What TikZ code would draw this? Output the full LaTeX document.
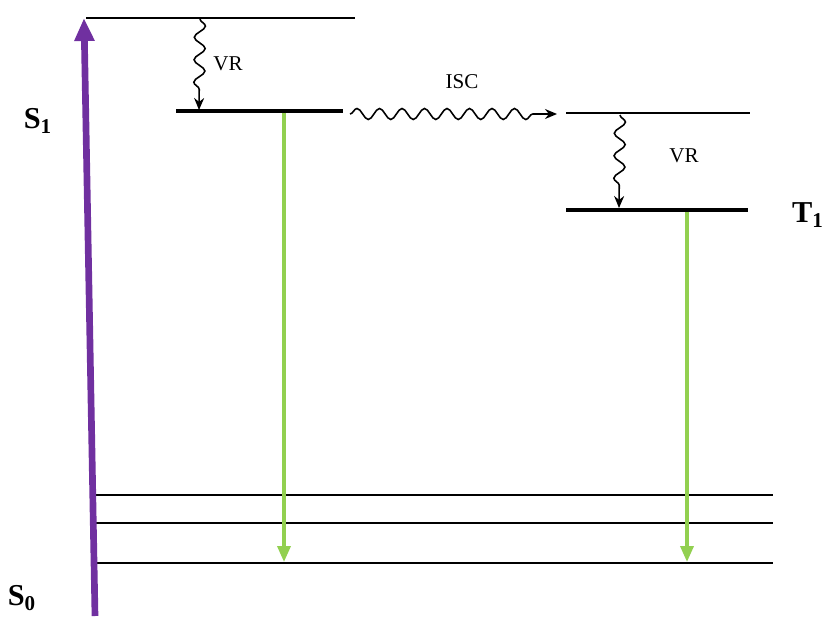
\documentclass[tikz,border=0pt]{standalone}
\usepackage{fontspec}
\setmainfont{Liberation Serif}
\usetikzlibrary{decorations.pathmorphing,arrows.meta}
\definecolor{absviolet}{RGB}{112,48,160}
\definecolor{emgreen}{RGB}{146,208,80}

\begin{document}
\begin{tikzpicture}[x=0.02cm, y=-0.02cm, >=stealth,
  level/.style={line width=0.8pt},
  vlevel/.style={line width=1.8pt},
  wave/.style={-{Stealth[width=0.2cm,length=0.24cm]}, line width=0.9pt, decorate, decoration={snake, amplitude=0.11cm, segment length=0.45cm, post length=0.28cm}},
  emit/.style={-{Triangle[width=0.26cm,length=0.32cm]}, emgreen, line width=2pt},
  lbl/.style={font=\bfseries\LARGE}]
  \useasboundingbox (0,0) rectangle (829,616);

  % S1 levels
  \coordinate (s1top) at (86,18);    \coordinate (s1topE) at (355,18);
  \coordinate (s1low) at (176,111);  \coordinate (s1lowE) at (343,111);
  \draw[level] (s1top) -- (s1topE);
  \draw[vlevel] (s1low) -- (s1lowE);

  % T1 levels
  \coordinate (t1top) at (566,113);  \coordinate (t1topE) at (750,113);
  \coordinate (t1low) at (566,210);  \coordinate (t1lowE) at (748,210);
  \draw[level] (t1top) -- (t1topE);
  \draw[vlevel] (t1low) -- (t1lowE);

  % S0 levels
  \foreach \y/\n in {495/a, 523/b, 563/c} {
    \coordinate (s0\n) at (92,\y);
    \coordinate (s0\n E) at (773,\y);
    \draw[level] (s0\n) -- (s0\n E);
  }

  % absorption
  \coordinate (absfoot) at (95,616);
  \coordinate (abstip) at (84,18);
  \draw[-{Triangle[width=0.38cm,length=0.46cm]}, absviolet, line width=3.8pt] (absfoot) -- (abstip);

  % vibrational relaxation and ISC
  \coordinate (vr1a) at (200,19);  \coordinate (vr1b) at (199,110);
  \draw[wave] (vr1a) -- (vr1b);
  \node[font=\large] (vr1) at (228,64) {VR};

  \coordinate (isca) at (350,114);  \coordinate (iscb) at (557,114);
  \draw[wave, decoration={snake, amplitude=0.11cm, segment length=0.45cm, post length=0.4cm}] (isca) -- (iscb);
  \node[font=\large] (isc) at (462,82) {ISC};

  \coordinate (vr2a) at (620,115);  \coordinate (vr2b) at (619,208);
  \draw[wave] (vr2a) -- (vr2b);
  \node[font=\large] (vr2) at (684,156) {VR};

  % emission
  \coordinate (em1a) at (284,113);  \coordinate (em1b) at (284,562);
  \coordinate (em2a) at (687,212);  \coordinate (em2b) at (687,562);
  \draw[emit] (em1a) -- (em1b);
  \draw[emit] (em2a) -- (em2b);

  % state labels
  \node[lbl] (s1) at (38,121) {S\textsubscript{1}};
  \node[lbl] (t1) at (808,215) {T\textsubscript{1}};
  \node[lbl] (s0) at (22,598) {S\textsubscript{0}};
\end{tikzpicture}
\end{document}
